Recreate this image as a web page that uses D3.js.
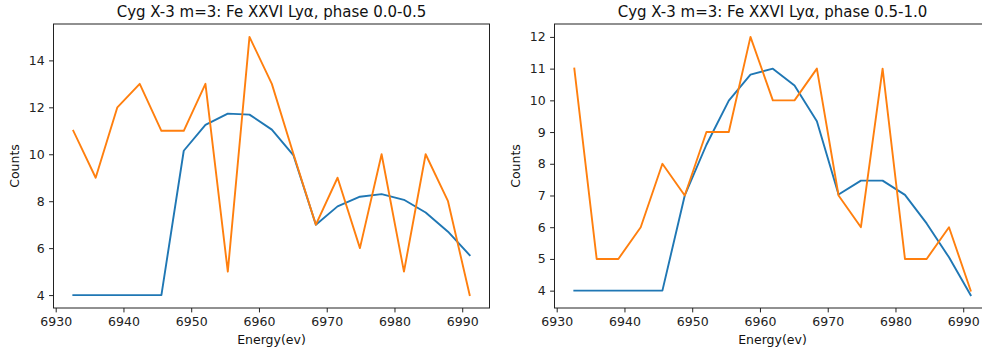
<!DOCTYPE html>
<html>
<head>
<meta charset="utf-8">
<script src="https://cdn.jsdelivr.net/npm/d3@7"></script>
<style>
  body { margin: 0; background: #fff; }
  svg { display: block; font-family: "DejaVu Sans", sans-serif; }
</style>
</head>
<body>
<svg id="chart" width="982" height="353"></svg>
<script>
// energy bins (eV), shared by both panels
var energy = [6932.6, 6935.9, 6939.1, 6942.4, 6945.6, 6948.9, 6952.1, 6955.4, 6958.6, 6961.9,
              6965.1, 6968.4, 6971.6, 6974.9, 6978.1, 6981.4, 6984.6, 6987.9, 6991.1];

// phase 0.0-0.5
var modelA = [4, 4, 4, 4, 4, 10.15, 11.25, 11.73, 11.69, 11.05,
              9.95, 7.0, 7.78, 8.19, 8.3, 8.06, 7.52, 6.7, 5.7];
var countsA = [11, 9, 12, 13, 11, 11, 13, 5, 15, 13,
               10, 7, 9, 6, 10, 5, 10, 8, 4];

// phase 0.5-1.0
var modelB = [4, 4, 4, 4, 4, 7.0, 8.6, 9.99, 10.81, 11.0,
              10.47, 9.34, 7.03, 7.47, 7.47, 7.02, 6.12, 5.05, 3.86];
var countsB = [11, 5, 5, 6, 8, 7, 9, 9, 12, 10,
               10, 11, 7, 6, 11, 5, 5, 6, 4];

var xTicks = [6930, 6940, 6950, 6960, 6970, 6980, 6990];
var yTicksA = [4, 6, 8, 10, 12, 14];
var yTicksB = [4, 5, 6, 7, 8, 9, 10, 11, 12];

var titles = ["Cyg X-3 m=3: Fe XXVI Ly\u03b1, phase 0.0-0.5",
              "Cyg X-3 m=3: Fe XXVI Ly\u03b1, phase 0.5-1.0"];

var svg = d3.select("#chart");

function padDomain(arrs) {
    var lo = d3.min(arrs, function (a) { return d3.min(a); });
    var hi = d3.max(arrs, function (a) { return d3.max(a); });
    var m = (hi - lo) * 0.05;
    return [lo - m, hi + m];
}

function drawPanel(opts) {
    var w = 436, h = 284;
    var g = svg.append("g")
        .attr("transform", "translate(" + opts.left + "," + opts.top + ")");

    var xscale = d3.scaleLinear().domain(padDomain([energy])).range([0, w]);
    var yscale = d3.scaleLinear().domain(padDomain([opts.model, opts.counts])).range([h, 0]);

    // x-axis
    var xaxis = g.append("g")
        .attr("transform", "translate(0," + h + ")")
        .call(d3.axisBottom(xscale).tickValues(xTicks).tickFormat(d3.format("d"))
            .tickSizeInner(4.4).tickSizeOuter(0).tickPadding(4.4));
    // y-axis
    var yaxis = g.append("g")
        .call(d3.axisLeft(yscale).tickValues(opts.yTicks).tickFormat(d3.format("d"))
            .tickSizeInner(4.4).tickSizeOuter(0).tickPadding(4.4));
    [xaxis, yaxis].forEach(function (a) {
        a.select(".domain").remove();
        a.selectAll("line").attr("stroke", "#222").attr("stroke-width", 1);
        a.selectAll("text").attr("fill", "#222")
            .style("font-size", "12.5px").style("font-family", "DejaVu Sans");
    });

    var line = d3.line()
        .x(function (d, i) { return xscale(energy[i]); })
        .y(function (d) { return yscale(d); });

    g.append("path").datum(opts.model)
        .attr("d", line)
        .attr("fill", "none")
        .attr("stroke", "#1f77b4")
        .attr("stroke-width", 1.9)
        .attr("stroke-linejoin", "round")
        .attr("stroke-linecap", "square");
    g.append("path").datum(opts.counts)
        .attr("d", line)
        .attr("fill", "none")
        .attr("stroke", "#ff7f0e")
        .attr("stroke-width", 1.9)
        .attr("stroke-linejoin", "round")
        .attr("stroke-linecap", "square");

    // frame
    g.append("rect")
        .attr("width", w)
        .attr("height", h)
        .attr("fill", "none")
        .attr("stroke", "#222")
        .attr("stroke-width", 1);

    g.append("text")
        .attr("x", w / 2)
        .attr("y", -7.5)
        .attr("text-anchor", "middle")
        .style("font-size", "15px")
        .attr("fill", "#111")
        .text(opts.title);
    g.append("text")
        .attr("x", w / 2)
        .attr("y", h + 36)
        .attr("text-anchor", "middle")
        .style("font-size", "12.5px")
        .attr("fill", "#111")
        .text("Energy(ev)");
    g.append("text")
        .attr("transform", "translate(" + opts.ylabelX + "," + (h / 2) + ") rotate(-90)")
        .attr("text-anchor", "middle")
        .style("font-size", "12.5px")
        .attr("fill", "#111")
        .text("Counts");
}

drawPanel({ left: 53.5, top: 24, model: modelA, counts: countsA, yTicks: yTicksA,
            title: titles[0], ylabelX: -35 });
drawPanel({ left: 554.5, top: 24, model: modelB, counts: countsB, yTicks: yTicksB,
            title: titles[1], ylabelX: -35 });
</script>
</body>
</html>
